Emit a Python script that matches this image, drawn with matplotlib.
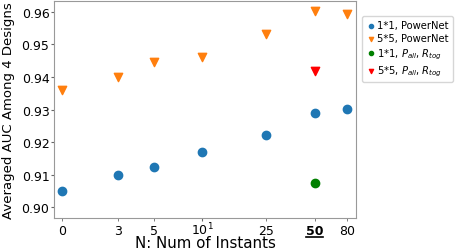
import matplotlib
matplotlib.use('Agg')
import matplotlib.pyplot as plt
from matplotlib.ticker import FixedLocator, FixedFormatter
from matplotlib.lines import Line2D
import numpy as np

# N values and averaged AUC
n_instants = [0, 3, 5, 10, 25, 50, 80]
auc_1x1_powernet = [0.9051, 0.9100, 0.9125, 0.9170, 0.9223, 0.9290, 0.9301]
auc_5x5_powernet = [0.9361, 0.9399, 0.9447, 0.9460, 0.9532, 0.9603, 0.9593]
n_extra = [50]
auc_1x1_pall_rtog = [0.9075]
auc_5x5_pall_rtog = [0.9419]
minor_ticks = [0, 3, 5, 25, 50, 80]
minor_labels = ['0', '3', '5', '25', '50', '80']

ZERO_POS = 1.337  # where N=0 sits on the log axis


def to_axis(n):
    n = np.asarray(n, dtype=float)
    return np.where(n == 0, ZERO_POS, n)


fig = plt.figure(figsize=(4.57, 2.51), dpi=100)
ax = fig.add_axes([54.3 / 457, 1 - 219 / 251, (356 - 54.3) / 457, (219 - 1.7) / 251])

ax.scatter(to_axis(n_instants), auc_1x1_powernet, marker='o', color='tab:blue', label='1*1, PowerNet')
ax.scatter(to_axis(n_instants), auc_5x5_powernet, marker='v', color='tab:orange', label='5*5, PowerNet')
ax.scatter(to_axis(n_extra), auc_1x1_pall_rtog, marker='o', color='green', label=r'1*1, $P_{all}$, $R_{tog}$')
ax.scatter(to_axis(n_extra), auc_5x5_pall_rtog, marker='v', color='red', label=r'5*5, $P_{all}$, $R_{tog}$')

ax.set_xscale('log')
ax.set_xlim(ZERO_POS / 10 ** 0.048, 80 * 10 ** 0.053)
ax.set_ylim(0.8967, 0.9634)
ax.set_yticks([0.90, 0.91, 0.92, 0.93, 0.94, 0.95, 0.96])
ax.xaxis.set_minor_locator(FixedLocator(to_axis(minor_ticks)))
ax.xaxis.set_minor_formatter(FixedFormatter(minor_labels))
ax.tick_params(axis='both', which='both', labelsize=9, length=2, color='#666666')
ax.tick_params(axis='y', pad=1.5)
ax.tick_params(axis='x', which='minor', pad=2)
ax.tick_params(axis='x', which='major', pad=-0.4)

for spine in ax.spines.values():
    spine.set_color('#999999')

ax.set_xlabel('N: Num of Instants', fontsize=10.8, labelpad=-1)
ax.set_ylabel('Averaged AUC Among 4 Designs', fontsize=9.5, labelpad=4.5)

ax.legend(loc='upper left', bbox_to_anchor=(1.019, 0.928), borderaxespad=0, fontsize=7.2,
          markerscale=0.5, handlelength=1.0, handletextpad=0.15, borderpad=0.4,
          labelspacing=0.3)

# bold + underline the N=50 label
for lbl in ax.xaxis.get_minorticklabels():
    if lbl.get_text() == '50':
        lbl.set_fontweight('bold')
fig.canvas.draw()
for lbl in ax.xaxis.get_minorticklabels():
    if lbl.get_text() == '50':
        bb = lbl.get_window_extent()
        y = (bb.y0 - 0.5) / fig.bbox.height
        fig.add_artist(Line2D([bb.x0 / fig.bbox.width, bb.x1 / fig.bbox.width], [y, y],
                              color='black', lw=1.2))

fig.savefig('out.png', dpi=100)
